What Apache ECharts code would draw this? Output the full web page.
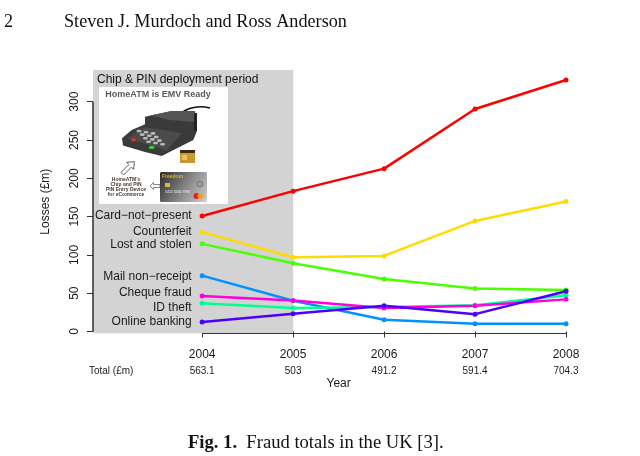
<!DOCTYPE html>
<html>
<head>
<meta charset="utf-8">
<script src="https://cdn.jsdelivr.net/npm/echarts@6/dist/echarts.min.js"></script>
<style>
  html, body { margin: 0; padding: 0; background: #fff; }
  #chart { width: 640px; height: 456px; }
</style>
</head>
<body>
<div id="chart"></div>
<script>
// ---- data ----
const years = [2004, 2005, 2006, 2007, 2008];
const totals = ['563.1', '503', '491.2', '591.4', '704.3'];
const yTicks = [0, 50, 100, 150, 200, 250, 300];
const seriesNames = ['Card\u2212not\u2212present', 'Counterfeit', 'Lost and stolen', 'Mail non\u2212receipt', 'Cheque fraud', 'ID theft', 'Online banking'];
const cardNotPresent = [150.8, 183.2, 212.6, 290.5, 328.4];
const counterfeit    = [129.7, 96.8, 98.6, 144.3, 169.8];
const lostStolen     = [114.4, 89.0, 68.5, 56.2, 54.1];
const mailNonReceipt = [72.9, 40.0, 15.4, 10.2, 10.2];
const chequeFraud    = [46.2, 40.3, 30.7, 33.5, 41.9];
const idTheft        = [36.9, 30.5, 31.9, 34.1, 47.4];
const onlineBanking  = [12.2, 23.2, 33.5, 22.6, 52.5];
const deployStart = 2002.8, deployEnd = 2005;
const deployLabel = 'Chip & PIN deployment period';
const totalLabelPos = 2003;
const yMin = -2.4, yMax = 341.4;

// ---- styles ----
const seriesValues = [cardNotPresent, counterfeit, lostStolen, mailNonReceipt, chequeFraud, idTheft, onlineBanking];
const colors = ['#FF0000', '#FFDB00', '#49FF00', '#0092FF', '#FF00DB', '#00FF92', '#4900FF'];
const labelDy = [0, 0, 1, 1, -3, 4, 0];
const drawOrder = [0, 1, 2, 3, 5, 4, 6];
const FONT = '"Liberation Sans", Arial, sans-serif';
const SERIF = '"Liberation Serif", "Times New Roman", serif';

const chart = echarts.init(document.getElementById('chart'), null, { renderer: 'canvas' });

const lineSeries = drawOrder.map(i => ({
  name: seriesNames[i],
  type: 'line',
  z: 3,
  data: years.map((y, k) => {
    const item = { value: [y, seriesValues[i][k]] };
    if (k === 0) {
      item.label = {
        show: true, position: 'left', distance: 8,
        formatter: seriesNames[i], offset: [0, labelDy[i]],
        color: '#1a1a1a', fontSize: 12, fontFamily: FONT
      };
    }
    return item;
  }),
  symbol: 'circle',
  symbolSize: 5,
  lineStyle: { color: colors[i], width: 2.5 },
  itemStyle: { color: colors[i] },
  emphasis: { disabled: true },
  animation: false
}));

const shade = {
  type: 'line',
  z: 1,
  data: [[deployEnd, 0]],
  showSymbol: false,
  symbolSize: 0,
  lineStyle: { opacity: 0 },
  silent: true,
  animation: false,
  markArea: {
    silent: true,
    itemStyle: { color: '#D3D3D3' },
    label: { show: false },
    data: [[{ xAxis: deployStart }, { xAxis: deployEnd }]]
  },
  markLine: {
    silent: true,
    symbol: 'none',
    label: { show: false },
    lineStyle: { color: '#333', width: 1, type: 'solid' },
    data: [
      [{ coord: [years[0], yMin] }, { coord: [years[years.length - 1], yMin] }]
    ]
  }
};

// R-style y axis line spanning only 0..300, drawn through the chart's scales
const yAxisLine = {
  type: 'line',
  z: 6,
  clip: false,
  silent: true,
  animation: false,
  showSymbol: false,
  symbol: 'none',
  data: [[deployStart, yTicks[0]], [deployStart, yTicks[yTicks.length - 1]]],
  lineStyle: { color: '#111', width: 1.3 },
  emphasis: { disabled: true }
};

function key(cx, cy, rx, ry, fill) {
  return { type: 'rect', shape: { x: cx - rx, y: cy - ry, width: 2 * rx, height: 2 * ry, r: ry }, style: { fill: fill }, z: 13 };
}

// inset picture (decoration drawn with shapes)
function insetElements() {
  const els = [];
  els.push({ type: 'rect', shape: { x: 99, y: 87, width: 129, height: 117 }, style: { fill: '#ffffff' }, z: 10 });
  els.push({ type: 'text', x: 158, y: 94.5, style: { text: 'HomeATM is EMV Ready', fill: '#5a5a5a', font: 'bold 9px "Liberation Sans", Arial', align: 'center', verticalAlign: 'middle' }, z: 11 });
  els.push({ type: 'bezierCurve', shape: { x1: 181, y1: 113, x2: 210, y2: 108, cpx1: 194, cpy1: 104 }, style: { stroke: '#111', lineWidth: 1.6, fill: null }, z: 11 });
  els.push({ type: 'polygon', shape: { points: [[145,116.7],[171.7,111],[195,111],[196.7,131.7],[193.3,140],[161.7,156],[145,152],[123,145.5],[122,138.3],[131.7,130],[145,124.3]] }, style: { fill: '#3a3a3a' }, z: 11 });
  els.push({ type: 'polygon', shape: { points: [[150,115.5],[171.7,111],[195,111],[194,122],[170,120]] }, style: { fill: '#555' }, z: 12 });
  els.push({ type: 'polygon', shape: { points: [[126.7,138.3],[145,127],[181.7,133.3],[166.7,150.5]] }, style: { fill: '#4b4b4b' }, z: 12 });
  els.push({ type: 'rect', shape: { x: 194, y: 113, width: 3, height: 18 }, style: { fill: '#222' }, z: 12 });
  for (let r = 0; r < 4; r++) {
    for (let c = 0; c < 3; c++) {
      els.push(key(139 + c * 7 + r * 3.2, 131 + r * 3.6 + c * 1.2, 2.4, 1.3, '#b8b8b8'));
    }
  }
  els.push(key(133.5, 140, 2.6, 1.4, '#e0302a'));
  els.push(key(151.7, 147.6, 2.8, 1.5, '#2fcf3a'));
  els.push({ type: 'rect', shape: { x: 180, y: 150, width: 15, height: 13 }, style: { fill: '#c9982e' }, z: 11 });
  els.push({ type: 'rect', shape: { x: 180, y: 150, width: 15, height: 3 }, style: { fill: '#3a2a10' }, z: 12 });
  els.push({ type: 'rect', shape: { x: 182, y: 155, width: 5, height: 5 }, style: { fill: '#e8c060' }, z: 12 });
  els.push({ type: 'polygon', x: 128, y: 168, rotation: -Math.PI / 4,
    shape: { points: [[0,-9],[5,-3],[1.8,-3],[1.8,8],[-1.8,8],[-1.8,-3],[-5,-3]] },
    style: { fill: '#fff', stroke: '#444', lineWidth: 0.8 }, z: 11 });
  const lines = ['HomeATM\u2019s', 'Chip and PIN', 'PIN Entry Device', 'for eCommerce'];
  lines.forEach((t, k) => {
    els.push({ type: 'text', x: 126, y: 179.5 + k * 4.9, style: { text: t, fill: '#4a3b30', font: 'bold 5px "Liberation Sans", Arial', align: 'center', verticalAlign: 'middle' }, z: 11 });
  });
  els.push({ type: 'polygon', x: 155, y: 186,
    shape: { points: [[-5,0],[-1.5,-3.5],[-1.5,-1.5],[5,-1.5],[5,1.5],[-1.5,1.5],[-1.5,3.5]] },
    style: { fill: '#fff', stroke: '#555', lineWidth: 0.7 }, z: 11 });
  els.push({ type: 'rect', shape: { x: 160, y: 172, width: 47, height: 30, r: 1.5 },
    style: { fill: new echarts.graphic.LinearGradient(0, 0, 1, 1, [{ offset: 0, color: '#2a2a2a' }, { offset: 0.55, color: '#8a8a8a' }, { offset: 1, color: '#d0d0d0' }]) }, z: 11 });
  els.push({ type: 'text', x: 162, y: 176.5, style: { text: 'Freedom', fill: '#e0b030', font: 'bold 5px "Liberation Sans", Arial', verticalAlign: 'middle' }, z: 12 });
  els.push({ type: 'rect', shape: { x: 165, y: 183, width: 5, height: 4 }, style: { fill: '#d9b450' }, z: 12 });
  els.push({ type: 'text', x: 165, y: 192, style: { text: '5412 3456 7890', fill: '#eee', font: '3.5px "Liberation Sans", Arial', verticalAlign: 'middle' }, z: 12 });
  els.push({ type: 'circle', shape: { cx: 196.5, cy: 196, r: 3 }, style: { fill: '#e02020' }, z: 12 });
  els.push({ type: 'circle', shape: { cx: 200.5, cy: 196, r: 3 }, style: { fill: '#f0a020', opacity: 0.9 }, z: 12 });
  els.push({ type: 'circle', shape: { cx: 200, cy: 184, r: 3 }, style: { fill: '#9a9a9a', stroke: '#555', lineWidth: 0.5 }, z: 12 });
  return els;
}

const baseGraphics = [
  { type: 'text', x: 4, y: 22, style: { text: '2', fill: '#111', font: '18px ' + SERIF, verticalAlign: 'middle' } },
  { type: 'text', x: 64, y: 22, style: { text: 'Steven J. Murdoch and Ross Anderson', fill: '#111', font: '18.2px ' + SERIF, verticalAlign: 'middle' } },
  { type: 'text', x: 188, y: 443, style: { text: '{b|Fig. 1.}  Fraud totals in the UK [3].', fill: '#111', font: '18.6px ' + SERIF, verticalAlign: 'middle',
      rich: { b: { fontWeight: 'bold', fontSize: 18.6, fontFamily: SERIF, fill: '#111' } } } }
].concat(insetElements());

const option = {
  backgroundColor: '#ffffff',
  animation: false,
  textStyle: { fontFamily: FONT },
  grid: { left: 93, right: 55.8, top: 70, bottom: 122.7, containLabel: false },
  xAxis: {
    type: 'value',
    min: deployStart, max: 2008.2,
    name: 'Year', nameLocation: 'middle', nameGap: 44, nameMoveOverlap: false,
    nameTextStyle: { color: '#1a1a1a', fontSize: 12, fontFamily: FONT },
    axisLine: { show: false },
    splitLine: { show: false },
    axisTick: { show: true, customValues: years, length: 6, lineStyle: { color: '#333', width: 1 } },
    axisLabel: {
      customValues: [totalLabelPos].concat(years),
      margin: 13,
      formatter: function (v) {
        const k = years.indexOf(Math.round(v));
        if (k < 0) return '{y| }\n{t|Total (\u00a3m)}';
        return '{y|' + years[k] + '}\n{t|' + totals[k] + '}';
      },
      rich: {
        y: { fontSize: 12, lineHeight: 16, color: '#1a1a1a', fontFamily: FONT },
        t: { fontSize: 10, lineHeight: 18, color: '#1a1a1a', fontFamily: FONT }
      }
    }
  },
  yAxis: {
    type: 'value',
    min: yMin, max: yMax,
    name: 'Losses (\u00a3m)', nameLocation: 'middle', nameGap: 41, nameRotate: 90, nameMoveOverlap: false,
    nameTextStyle: { color: '#1a1a1a', fontSize: 12, fontFamily: FONT },
    axisLine: { show: false },
    splitLine: { show: false },
    axisTick: { show: true, customValues: yTicks, length: 6, lineStyle: { color: '#333', width: 1 } },
    axisLabel: { customValues: yTicks, rotate: 90, margin: 12, color: '#1a1a1a', fontSize: 12, fontFamily: FONT }
  },
  graphic: baseGraphics,
  series: [shade].concat(lineSeries, [yAxisLine])
};

chart.setOption(option);

// label of the shaded period, anchored via the chart's own scales
const corner = chart.convertToPixel({ gridIndex: 0 }, [deployStart, yMax]);
chart.setOption({
  graphic: baseGraphics.concat([
    { type: 'text', x: corner[0] + 4, y: corner[1] + 10, z: 20,
      style: { text: deployLabel, fill: '#111', font: '12px ' + FONT, verticalAlign: 'middle' } }
  ])
});
</script>
</body>
</html>
